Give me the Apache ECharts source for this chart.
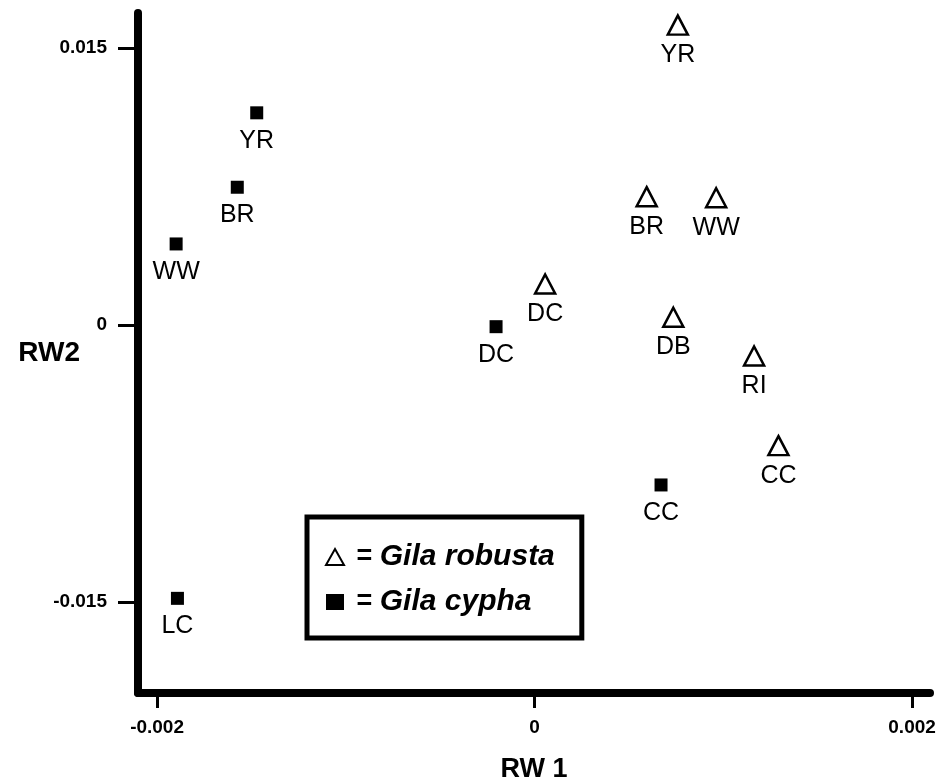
<!DOCTYPE html>
<html>
<head>
<meta charset="utf-8">
<script src="https://cdn.jsdelivr.net/npm/echarts@6/dist/echarts.min.js"></script>
<style>html,body{margin:0;padding:0;background:#fff;}#chart{width:937px;height:784px;}</style>
</head>
<body>
<div id="chart"></div>
<script>
const robustaNames = ['YR', 'BR', 'WW', 'DC', 'DB', 'RI', 'CC'];
const robustaRW1 = [0.000759, 0.000594, 0.000962, 0.000056, 0.000735, 0.001163, 0.001292];
const robustaRW2 = [0.01624, 0.00695, 0.00689, 0.00222, 0.00042, -0.00168, -0.00653];

const cyphaNames = ['YR', 'BR', 'WW', 'DC', 'CC', 'LC'];
const cyphaRW1 = [-0.001472, -0.001575, -0.001899, -0.000204, 0.000670, -0.001892];
const cyphaRW2 = [0.01149, 0.00746, 0.00439, -0.00009, -0.00866, -0.01480];

const xTicks = [-0.002, 0, 0.002];
const xTickLabels = ['-0.002', '0', '0.002'];
const yTicks = [-0.015, 0, 0.015];
const yTickLabels = ['-0.015', '0', '0.015'];

const FONT = 'Liberation Sans';

function pts(names, xs, ys) {
  return names.map((n, i) => ({ name: n, value: [xs[i], ys[i]] }));
}

const chart = echarts.init(document.getElementById('chart'));
const pointLabel = {
  show: true, position: 'bottom', formatter: '{b}', color: '#000',
  fontFamily: FONT, fontSize: 25, lineHeight: 25
};

chart.setOption({
  animation: false,
  backgroundColor: '#fff',
  grid: { left: 138, right: 7, top: 13, bottom: 91, containLabel: false, outerBoundsMode: 'none' },
  xAxis: {
    type: 'value', min: -0.002101, max: 0.002095,
    splitLine: { show: false },
    axisLine: { show: true, onZero: false, lineStyle: { color: '#000', width: 8 } },
    axisTick: { show: true, length: 15, lineStyle: { color: '#000', width: 3 }, customValues: xTicks },
    axisLabel: {
      customValues: xTicks, margin: 25, color: '#000', fontFamily: FONT, fontSize: 19, fontWeight: 'bold',
      formatter: v => { const i = xTicks.findIndex(t => Math.abs(t - v) < 1e-9); return i >= 0 ? xTickLabels[i] : ''; }
    },
    name: 'RW 1', nameLocation: 'middle', nameGap: 63, nameMoveOverlap: false,
    nameTextStyle: { color: '#000', fontFamily: FONT, fontSize: 27, fontWeight: 'bold' }
  },
  yAxis: {
    type: 'value', min: -0.019925, max: 0.016895,
    splitLine: { show: false },
    axisLine: { show: true, onZero: false, lineStyle: { color: '#000', width: 8 } },
    axisTick: { show: true, length: 20, lineStyle: { color: '#000', width: 3 }, customValues: yTicks },
    axisLabel: {
      customValues: yTicks, margin: 31, color: '#000', fontFamily: FONT, fontSize: 19, fontWeight: 'bold',
      formatter: v => { const i = yTicks.findIndex(t => Math.abs(t - v) < 1e-9); return i >= 0 ? yTickLabels[i] : ''; }
    },
    name: 'RW2', nameLocation: 'middle', nameGap: 58, nameRotate: 0, nameMoveOverlap: false,
    nameTextStyle: { color: '#000', fontFamily: FONT, fontSize: 28, fontWeight: 'bold', align: 'right', verticalAlign: 'middle', padding: [19, 0, 0, 0] }
  },
  legend: {
    orient: 'vertical', left: 307, top: 517,
    data: ['Gila robusta', 'Gila cypha'],
    itemWidth: 18, itemHeight: 16, itemGap: 15,
    padding: [25, 27, 21, 18],
    borderColor: '#000', borderWidth: 5, backgroundColor: '#fff',
    formatter: n => '{eq| = }{sp|' + n + '}',
    textStyle: {
      color: '#000', lineHeight: 30,
      rich: {
        eq: { fontFamily: FONT, fontSize: 27, fontWeight: 'bold', color: '#000', lineHeight: 30 },
        sp: { fontFamily: FONT, fontSize: 30, fontWeight: 'bold', fontStyle: 'italic', color: '#000', lineHeight: 30 }
      }
    }
  },
  series: [
    {
      name: 'Gila robusta', type: 'scatter', symbol: 'triangle', symbolSize: [20, 19],
      itemStyle: { color: '#fff', borderColor: '#000', borderWidth: 2.5, opacity: 1 },
      label: Object.assign({}, pointLabel, { distance: 7 }),
      data: pts(robustaNames, robustaRW1, robustaRW2)
    },
    {
      name: 'Gila cypha', type: 'scatter', symbol: 'rect', symbolSize: 13,
      itemStyle: { color: '#000', opacity: 1 },
      label: Object.assign({}, pointLabel, { distance: 9 }),
      data: pts(cyphaNames, cyphaRW1, cyphaRW2)
    }
  ]
});
</script>
</body>
</html>
